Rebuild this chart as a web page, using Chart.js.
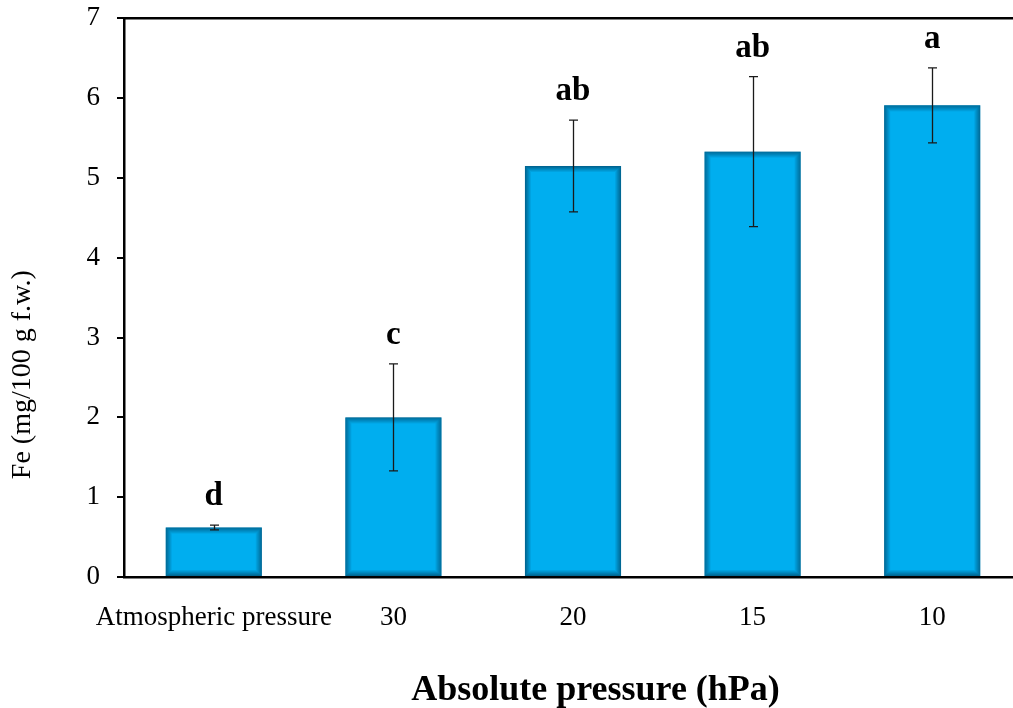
<!DOCTYPE html>
<html>
<head>
<meta charset="utf-8">
<script src="https://cdn.jsdelivr.net/npm/chart.js@4"></script>
<style>
    html, body { margin: 0; padding: 0; background: #fff; overflow: hidden; }
    #wrap { position: relative; width: 1022px; height: 708px; }
</style>
</head>
<body>
<div id="wrap"><canvas id="fe-chart"></canvas></div>
<script>
// Fe content by absolute pressure
const categories = ['Atmospheric pressure', '30', '20', '15', '10'];
const feMeans = [0.62, 2.0, 5.15, 5.33, 5.91];
const feErrors = [0.03, 0.67, 0.575, 0.94, 0.47];
const sigLetters = ['d', 'c', 'ab', 'ab', 'a'];
const yTicks = [0, 1, 2, 3, 4, 5, 6, 7];

const serif = '"Liberation Serif", "Times New Roman", serif';

// soft dark edge inside each bar
const barShade = {
    id: 'barShade',
    afterDatasetsDraw(chart) {
        const ctx = chart.ctx;
        chart.getDatasetMeta(0).data.forEach(bar => {
            const left = bar.x - bar.width / 2;
            const top = bar.y;
            const w = bar.width;
            const h = bar.base - bar.y;
            ctx.save();
            for (let i = 0; i < 6; i++) {
                ctx.strokeStyle = `rgba(0, 55, 85, ${0.6 * (1 - i / 6)})`;
                ctx.lineWidth = 1;
                ctx.strokeRect(left + i + 0.5, top + i + 0.5, w - 2 * i - 1, h - 2 * i - 1);
            }
            ctx.restore();
        });
    }
};

// error bars + significance letters
const errorBars = {
    id: 'errorBars',
    afterDatasetsDraw(chart) {
        const ctx = chart.ctx;
        const y = chart.scales.y;
        chart.getDatasetMeta(0).data.forEach((bar, i) => {
            const hi = y.getPixelForValue(feMeans[i] + feErrors[i]);
            const lo = y.getPixelForValue(feMeans[i] - feErrors[i]);
            const x = Math.round(bar.x) + 0.5;
            ctx.save();
            ctx.strokeStyle = '#1a1a1a';
            ctx.lineWidth = 1.3;
            ctx.beginPath();
            ctx.moveTo(x, hi); ctx.lineTo(x, lo);
            ctx.moveTo(x - 4.5, hi); ctx.lineTo(x + 4.5, hi);
            ctx.moveTo(x - 4.5, lo); ctx.lineTo(x + 4.5, lo);
            ctx.stroke();

            ctx.fillStyle = '#000';
            ctx.font = 'bold 33px ' + serif;
            ctx.textAlign = 'center';
            ctx.textBaseline = 'alphabetic';
            ctx.fillText(sigLetters[i], bar.x, hi - 20);
            ctx.restore();
        });
    }
};

new Chart(document.getElementById('fe-chart'), {
    type: 'bar',
    data: {
        labels: categories,
        datasets: [{
            label: 'Fe',
            data: feMeans,
            backgroundColor: '#00aeef',
            borderWidth: 0,
            categoryPercentage: 1.0,
            barPercentage: 0.535
        }]
    },
    options: {
        responsive: true,
        maintainAspectRatio: false,
        animation: false,
        layout: { padding: { top: 0, right: 0, left: 0, bottom: 0 } },
        plugins: {
            legend: { display: false },
            tooltip: { enabled: false }
        },
        scales: {
            x: {
                position: 'bottom',
                grid: { display: false, drawTicks: false },
                border: { display: true, color: '#000', width: 2.5 },
                ticks: {
                    color: '#000',
                    padding: 25,
                    maxRotation: 0,
                    autoSkip: false,
                    font: { family: serif, size: 27 }
                },
                title: {
                    display: true,
                    text: '     Absolute pressure (hPa)',
                    color: '#000',
                    padding: { top: 0, bottom: 0 },
                    font: { family: serif, size: 36, weight: 'bold', lineHeight: 0.95 }
                },
                afterFit(scale) { scale.height = 131; }
            },
            xTop: {
                position: 'top',
                grid: { display: false, drawTicks: false },
                border: { display: true, color: '#000', width: 2.5 },
                ticks: { display: false },
                afterFit(scale) { scale.height = 0; }
            },
            y: {
                min: 0,
                max: 7,
                afterBuildTicks(scale) { scale.ticks = yTicks.map(v => ({ value: v })); },
                grid: { drawOnChartArea: false, drawTicks: true, tickLength: 7, color: '#000', lineWidth: 2 },
                border: { display: true, color: '#000', width: 2.5 },
                ticks: {
                    color: '#000',
                    padding: 17,
                    font: { family: serif, size: 27, lineHeight: 0.1 }
                },
                title: {
                    display: true,
                    text: 'Fe (mg/100 g f.w.)                      ',
                    color: '#000',
                    padding: { top: 6, bottom: 0 },
                    font: { family: serif, size: 28 }
                },
                afterFit(scale) { scale.width = 124; }
            }
        }
    },
    plugins: [barShade, errorBars]
});
</script>
</body>
</html>
